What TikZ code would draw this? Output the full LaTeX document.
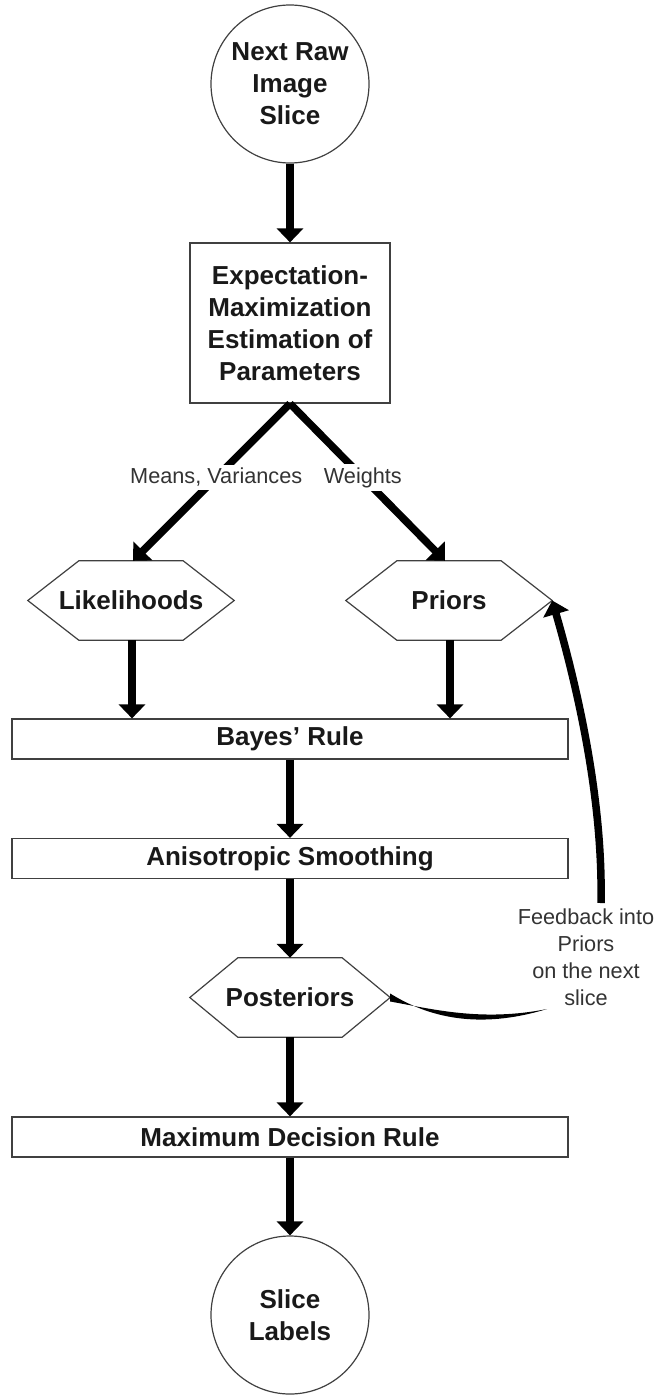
\documentclass[tikz,border=0pt]{standalone}
\usepackage{fontspec}
\setmainfont{Liberation Sans}
\usetikzlibrary{arrows.meta}
\begin{document}
\begin{tikzpicture}[x=1pt,y=-1pt,
  outline/.style={draw=black!75, line width=1.2pt},
  boldtext/.style={font=\bfseries\fontsize{26}{32}\selectfont, align=center, text=black!90},
  roundbox/.style={outline, boldtext, circle, minimum size=158pt, inner sep=0pt},
  rectbox/.style={outline, boldtext, rectangle, inner sep=0pt},
  hexbox/.style={boldtext, rectangle, minimum height=79pt, inner sep=0pt},
  flow/.style={line width=7.5pt, -{Triangle[width=26pt,length=14pt]}},
  lbl/.style={font=\fontsize{21.7}{27}\selectfont, text=black!80, align=center},
  edgelbl/.style={lbl, fill=white, inner xsep=6pt, inner ysep=3pt}
]
\useasboundingbox (0,0) rectangle (656,1395);

\newcommand{\hexoutline}[2]{%
  \draw[outline] (#1.west) -- ([xshift=#2]#1.north west) -- ([xshift=-#2]#1.north east)
    -- (#1.east) -- ([xshift=-#2]#1.south east) -- ([xshift=#2]#1.south west) -- cycle;}

\node[roundbox] (raw) at (290,84) {Next Raw\\Image\\Slice};
\node[rectbox, minimum width=200pt, minimum height=160pt] (em) at (290,323)
  {Expectation-\\Maximization\\Estimation of\\Parameters};
\node[hexbox, minimum width=206pt] (lik) at (131,600.5) {Likelihoods};
\node[hexbox, minimum width=206pt] (pri) at (449,600.5) {Priors};
\hexoutline{lik}{51pt}
\hexoutline{pri}{51pt}
\node[rectbox, minimum width=556pt, minimum height=40pt] (bayes) at (290,739) {Bayes’ Rule};
\node[rectbox, minimum width=556pt, minimum height=40pt] (aniso) at (290,858.5) {Anisotropic Smoothing};
\node[hexbox, minimum width=200pt] (post) at (290,997.5) {Posteriors};
\hexoutline{post}{48pt}
\node[rectbox, minimum width=556pt, minimum height=40pt] (maxd) at (290,1137) {Maximum Decision Rule};
\node[roundbox] (labels) at (290,1315) {Slice\\Labels};

\draw[flow] (raw) -- (em);
\draw[flow] (em.south) -- node[edgelbl, pos=0.47] {Means, Variances} ([xshift=2pt]lik.north);
\draw[flow] (em.south) -- node[edgelbl, pos=0.47] {Weights} ([xshift=-4pt]pri.north);
\draw[flow] ([xshift=1pt]lik.south) -- ([xshift=1pt]lik.south |- bayes.north);
\draw[flow] ([xshift=1pt]pri.south) -- ([xshift=1pt]pri.south |- bayes.north);
\draw[flow] (bayes) -- (aniso);
\draw[flow] (aniso) -- (post);
\draw[flow] (post) -- (maxd);
\draw[flow] (maxd) -- (labels);

\node[lbl] (fbtext) at (586,957) {Feedback into\\Priors\\on the next\\slice};
\coordinate (fbend) at (547,1009);
\coordinate (fbstart) at (601,903);
% brush-like stroke from Posteriors towards the feedback note, tapering at its end
\fill ([yshift=-4pt]post.east) .. controls (432,1009) and (482,1022) .. (fbend)
  .. controls (478,1030) and (428,1017) .. ([yshift=4pt]post.east) -- cycle;
\draw[flow] (fbstart) .. controls (603,800) and (578,690) .. (pri.east);
\end{tikzpicture}
\end{document}
